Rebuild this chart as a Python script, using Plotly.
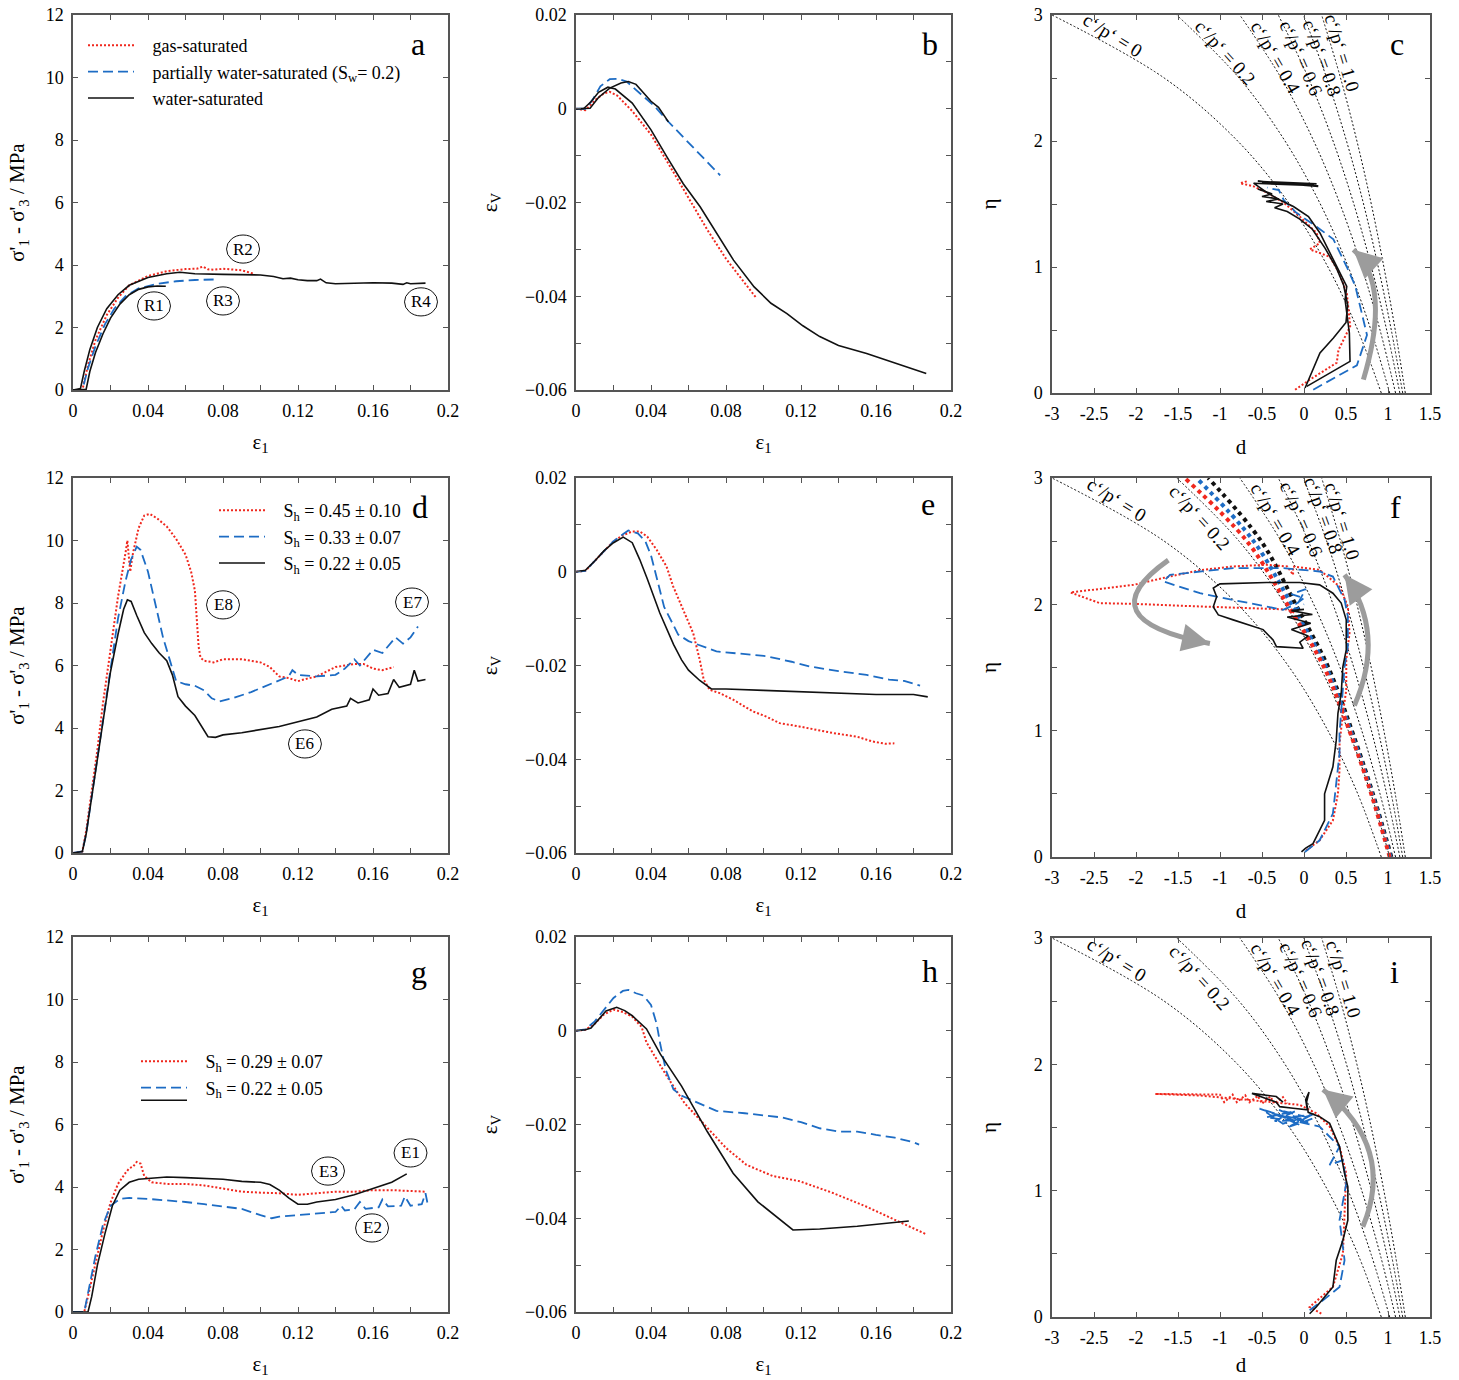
import plotly.graph_objects as go

FONT = "Liberation Serif, Times New Roman, serif"
RED = "#f0281e"
BLUE = "#1d6cc4"
BLACK = "#111111"
GREY = "#9c9c9c"
FRAME = "#555555"
W, H, OFF = 1459, 1380, 0   # page offset of the plot div (body margin removed below)

# ---------------- ticks ----------------
strain_minor = [0, 0.02, 0.04, 0.06, 0.08, 0.1, 0.12, 0.14, 0.16, 0.18, 0.2]
strain_ticks = [0, 0.04, 0.08, 0.12, 0.16, 0.2]
strain_labels = ["0", "0.04", "0.08", "0.12", "0.16", "0.2"]
stress_ticks = [0, 2, 4, 6, 8, 10, 12]
stress_labels = ["0", "2", "4", "6", "8", "10", "12"]
vol_minor = [-0.06, -0.05, -0.04, -0.03, -0.02, -0.01, 0, 0.01, 0.02]
vol_ticks = [-0.06, -0.04, -0.02, 0, 0.02]
vol_labels = ["\u22120.06", "\u22120.04", "\u22120.02", "0", "0.02"]
d_ticks = [-3, -2.5, -2, -1.5, -1, -0.5, 0, 0.5, 1, 1.5]
d_labels = ["-3", "-2.5", "-2", "-1.5", "-1", "-0.5", "0", "0.5", "1", "1.5"]
eta_minor = [0, 0.5, 1, 1.5, 2, 2.5, 3]
eta_ticks = [0, 1, 2, 3]
eta_labels = ["0", "1", "2", "3"]

legend_a = ["gas-saturated", "partially water-saturated (S<sub>w</sub>= 0.2)", "water-saturated"]
legend_d = ["S<sub>h</sub> = 0.45 \u00b1 0.10", "S<sub>h</sub> = 0.33 \u00b1 0.07", "S<sub>h</sub> = 0.22 \u00b1 0.05"]
legend_g = ["S<sub>h</sub> = 0.29 \u00b1 0.07", "S<sub>h</sub> = 0.22 \u00b1 0.05"]

# ---------------- reference lines c'/p' (d vs eta) ----------------
cp_eta = [0, 0.5, 1, 1.5, 2, 2.5, 3]
cp_names = ["0", "0.2", "0.4", "0.6", "0.8", "1.0"]
cp00_d = [0.92, 0.64, 0.285, -0.173, -0.79, -1.664, -3.0]
cp02_d = [1.02, 0.797, 0.527, 0.194, -0.226, -0.773, -1.515]
cp04_d = [1.09, 0.905, 0.688, 0.429, 0.116, -0.272, -0.764]
cp06_d = [1.141, 0.984, 0.803, 0.593, 0.346, 0.052, -0.306]
cp08_d = [1.175, 1.039, 0.884, 0.709, 0.506, 0.27, -0.007]
cp10_d = [1.206, 1.086, 0.951, 0.801, 0.63, 0.435, 0.21]
cp_lines = [cp00_d, cp02_d, cp04_d, cp06_d, cp08_d, cp10_d]

# fitted lines in panel f
f_fit_gas_d = [1.02, 0.80, 0.54, 0.24, -0.20, -0.68, -1.42]
f_fit_part_d = [1.03, 0.81, 0.555, 0.265, -0.15, -0.60, -1.28]
f_fit_water_d = [1.04, 0.82, 0.57, 0.29, -0.10, -0.51, -1.14]

# ---------------- panel a ----------------
a_gas_x = [0, 0.005, 0.008, 0.012, 0.018, 0.024, 0.03, 0.04, 0.05, 0.06, 0.066, 0.0693, 0.072, 0.075, 0.08, 0.09, 0.0969]
a_gas_y = [0, 0, 0.8, 1.6, 2.4, 2.95, 3.35, 3.65, 3.8, 3.87, 3.88, 3.95, 3.86, 3.85, 3.88, 3.83, 3.71]
a_part_x = [0, 0.005, 0.008, 0.012, 0.017, 0.022, 0.028, 0.035, 0.045, 0.055, 0.065, 0.0773]
a_part_y = [0, 0, 0.7, 1.4, 2.1, 2.6, 3.0, 3.25, 3.4, 3.48, 3.52, 3.54]
a_water_x = [0, 0.004, 0.006, 0.009, 0.013, 0.018, 0.024, 0.03, 0.04, 0.05, 0.057, 0.065, 0.08, 0.09, 0.1, 0.107,
             0.112, 0.116, 0.12, 0.125, 0.13, 0.132, 0.135, 0.14, 0.15, 0.16, 0.17, 0.176, 0.178, 0.18, 0.188]
a_water_y = [0, 0.05, 0.6, 1.3, 2.0, 2.6, 3.05, 3.35, 3.6, 3.72, 3.77, 3.72, 3.7, 3.7, 3.68, 3.63,
             3.56, 3.58, 3.53, 3.5, 3.5, 3.55, 3.43, 3.4, 3.42, 3.43, 3.42, 3.38, 3.43, 3.4, 3.42]
a_water2_x = [0, 0.007, 0.009, 0.012, 0.016, 0.02, 0.025, 0.03, 0.035, 0.04, 0.045, 0.0495]
a_water2_y = [0, 0.02, 0.6, 1.2, 1.8, 2.3, 2.75, 3.05, 3.22, 3.3, 3.33, 3.32]

# ---------------- panel b ----------------
b_gas_x = [0, 0.005, 0.01, 0.015, 0.018, 0.022, 0.03, 0.04, 0.05, 0.06, 0.07, 0.08, 0.09, 0.0964]
b_gas_y = [0, -0.0003, 0.0018, 0.0033, 0.0036, 0.0028, -0.0005, -0.0055, -0.0122, -0.019, -0.0258, -0.032, -0.0372, -0.0405]
b_part_x = [0, 0.005, 0.009, 0.013, 0.018, 0.022, 0.027, 0.035, 0.042, 0.0484, 0.055, 0.065, 0.0769]
b_part_y = [0, 0, 0.002, 0.0048, 0.0063, 0.0064, 0.0058, 0.003, 0.0005, -0.0024, -0.0052, -0.0093, -0.0142]
b_water_x = [0, 0.004, 0.008, 0.012, 0.017, 0.021, 0.03, 0.04, 0.0484, 0.0572, 0.0662, 0.075, 0.084, 0.095,
             0.104, 0.1125, 0.121, 0.13, 0.14, 0.155, 0.17, 0.1868]
b_water_y = [0, 0, 0.0015, 0.0035, 0.0046, 0.0042, 0.0012, -0.0045, -0.0102, -0.016, -0.0209, -0.0265, -0.0323, -0.038,
             -0.0415, -0.0437, -0.0463, -0.0486, -0.0505, -0.0522, -0.0543, -0.0565]
b_water2_x = [0, 0.003, 0.0075, 0.012, 0.018, 0.024, 0.0279, 0.032, 0.04, 0.044, 0.0493]
b_water2_y = [0, 0, 0.0001, 0.0024, 0.0044, 0.0055, 0.0058, 0.0052, 0.0016, 0.0003, -0.0028]

# ---------------- panel c ----------------
c_gas_d = [-0.106, 0.07, 0.39, 0.41, 0.55, 0.51, 0.42, 0.31, 0.19, 0.07, 0.19, 0.15, -0.05, -0.24, -0.44, -0.6, -0.76, -0.68]
c_gas_eta = [0.026, 0.106, 0.24, 0.34, 0.53, 0.79, 0.95, 1.08, 1.11, 1.14, 1.19, 1.27, 1.40, 1.51, 1.59, 1.64, 1.665, 1.68]
c_part_d = [0.11, 0.63, 0.75, 0.61, 0.51, 0.35, 0.15, -0.09, -0.24, -0.3, -0.44]
c_part_eta = [0.026, 0.22, 0.46, 0.85, 1.0, 1.22, 1.32, 1.43, 1.53, 1.61, 1.63]
c_water_d = [0.033, 0.548, 0.54, 0.489, 0.509, 0.429, 0.31, 0.19, 0.053, -0.126, -0.28, -0.44, -0.6,
             0.17, -0.5, 0.12, -0.4, 0.17, -0.55, 0.15]
c_water_eta = [0.053, 0.251, 0.476, 0.74, 0.846, 0.952, 1.11, 1.27, 1.40, 1.48, 1.53, 1.59, 1.665,
               1.645, 1.67, 1.655, 1.675, 1.64, 1.68, 1.66]
c_water2_d = [0.013, 0.19, 0.35, 0.5, 0.52, 0.47, 0.38, 0.25, 0.1, -0.05, -0.2, -0.35, -0.25, -0.45, -0.3, -0.5, -0.38, -0.55]
c_water2_eta = [0.04, 0.317, 0.436, 0.56, 0.7, 0.86, 1.0, 1.15, 1.3, 1.38, 1.44, 1.47, 1.5, 1.52, 1.54, 1.56, 1.58, 1.62]

# ---------------- panel d ----------------
d_gas_x = [0, 0.005, 0.007, 0.01, 0.013, 0.016, 0.02, 0.024, 0.028, 0.029, 0.0305, 0.032, 0.035, 0.038, 0.041, 0.045,
           0.05, 0.055, 0.06, 0.063, 0.065, 0.066, 0.067, 0.068, 0.07, 0.075, 0.08, 0.09, 0.1, 0.105, 0.11, 0.115,
           0.12, 0.125, 0.13, 0.14, 0.15, 0.155, 0.16, 0.165, 0.171]
d_gas_y = [0, 0.05, 0.7, 2.0, 3.3, 4.8, 6.5, 8.2, 9.6, 10.0, 9.0, 9.6, 10.4, 10.8, 10.85, 10.7,
           10.45, 10.05, 9.55, 9.0, 8.4, 7.5, 6.6, 6.25, 6.15, 6.1, 6.2, 6.2, 6.1, 5.95, 5.65, 5.6,
           5.5, 5.58, 5.65, 5.95, 6.05, 6.05, 5.9, 5.85, 5.95]
d_part_x = [0, 0.005, 0.007, 0.01, 0.013, 0.016, 0.02, 0.024, 0.028, 0.031, 0.034, 0.036, 0.04, 0.044, 0.048, 0.052,
            0.055, 0.06, 0.065, 0.07, 0.074, 0.078, 0.085, 0.095, 0.105, 0.115, 0.117, 0.12, 0.13, 0.14, 0.145,
            0.15, 0.153, 0.16, 0.165, 0.172, 0.176, 0.18, 0.184]
d_part_y = [0, 0.05, 0.6, 1.8, 3.0, 4.3, 5.9, 7.5, 8.7, 9.4, 9.8, 9.7, 9.0, 8.0, 6.9, 6.1,
            5.5, 5.4, 5.35, 5.2, 4.95, 4.85, 4.95, 5.15, 5.4, 5.65, 5.85, 5.7, 5.65, 5.7, 5.9,
            6.2, 6.0, 6.5, 6.4, 6.9, 6.7, 6.9, 7.25]
d_water_x = [0, 0.005, 0.007, 0.01, 0.013, 0.016, 0.02, 0.024, 0.027, 0.029, 0.031, 0.034, 0.038, 0.042, 0.046, 0.05,
             0.053, 0.056, 0.06, 0.065, 0.068, 0.072, 0.076, 0.08, 0.09, 0.1, 0.11, 0.12, 0.13, 0.138, 0.146,
             0.148, 0.152, 0.158, 0.16, 0.163, 0.168, 0.171, 0.174, 0.18, 0.182, 0.184, 0.188]
d_water_y = [0, 0.05, 0.6, 1.8, 3.0, 4.3, 5.8, 7.0, 7.8, 8.1, 8.05, 7.6, 7.05, 6.7, 6.4, 6.15,
             5.7, 5.0, 4.7, 4.4, 4.1, 3.72, 3.7, 3.78, 3.85, 3.95, 4.05, 4.2, 4.35, 4.6, 4.7,
             4.95, 4.8, 4.9, 5.25, 5.05, 5.1, 5.55, 5.3, 5.4, 5.85, 5.5, 5.55]

# ---------------- panel e ----------------
e_gas_x = [0, 0.005, 0.01, 0.015, 0.02, 0.025, 0.03, 0.034, 0.038, 0.043, 0.0483, 0.0518, 0.057, 0.0625, 0.066,
           0.0681, 0.0713, 0.0767, 0.0838, 0.0944, 0.1015, 0.1086, 0.119, 0.137, 0.15, 0.158, 0.165, 0.1698]
e_gas_y = [0, 0.0002, 0.0023, 0.0045, 0.0065, 0.0078, 0.0086, 0.0086, 0.0075, 0.0047, 0.0011, -0.0031, -0.0081, -0.0131, -0.0188,
           -0.023, -0.0252, -0.0259, -0.0273, -0.0298, -0.0309, -0.0323, -0.033, -0.0344, -0.0352, -0.0362, -0.0367, -0.0366]
e_part_x = [0, 0.005, 0.01, 0.015, 0.02, 0.025, 0.0279, 0.033, 0.037, 0.04, 0.043, 0.047, 0.0545, 0.06, 0.0749,
            0.09, 0.1015, 0.115, 0.1246, 0.14, 0.1476, 0.155, 0.167, 0.175, 0.1835]
e_part_y = [0, 0.0002, 0.0023, 0.0045, 0.0065, 0.008, 0.0088, 0.0082, 0.0065, 0.0035, -0.0015, -0.0075, -0.0134, -0.0148, -0.017,
            -0.0175, -0.018, -0.0192, -0.0202, -0.0212, -0.0216, -0.022, -0.023, -0.0233, -0.0243]
e_water_x = [0, 0.005, 0.01, 0.015, 0.02, 0.0252, 0.03, 0.034, 0.038, 0.0447, 0.052, 0.0563, 0.06, 0.066, 0.0722,
             0.08, 0.1, 0.12, 0.14, 0.16, 0.18, 0.1876]
e_water_y = [0, 0.0003, 0.0023, 0.0045, 0.0062, 0.0074, 0.0062, 0.0026, -0.0015, -0.0088, -0.0155, -0.0188, -0.021, -0.0232, -0.025,
             -0.025, -0.0253, -0.0256, -0.026, -0.0262, -0.0262, -0.0267]

# ---------------- panel f ----------------
f_gas_d = [0.028, 0.186, 0.344, 0.404, 0.423, 0.423, 0.463, 0.503, 0.503, 0.542, 0.522, 0.423, 0.186, 0.0, -0.13, -0.13,
           -0.2, -0.447, -0.843, -1.24, -1.6, -2.03, -2.78, -2.43, -2.03, -1.24, -0.447, -0.21, -0.1]
f_gas_eta = [0.053, 0.132, 0.29, 0.502, 0.687, 0.899, 1.137, 1.322, 1.56, 1.771, 1.983, 2.141, 2.273, 2.29, 2.30, 2.234,
             2.30, 2.313, 2.30, 2.27, 2.22, 2.154, 2.094, 2.009, 2.004, 1.983, 1.969, 1.96, 1.93]
f_part_d = [0.01, 0.186, 0.344, 0.384, 0.423, 0.423, 0.443, 0.463, 0.483, 0.522, 0.522, 0.483, 0.344, 0.186, -0.25,
            -0.843, -1.239, -1.595, -1.674, -1.239, -0.843, -0.447, -0.25, -0.1, 0.0, -0.15, 0.02, -0.12, 0.0]
f_part_eta = [0.04, 0.132, 0.344, 0.608, 0.82, 0.978, 1.137, 1.295, 1.507, 1.665, 1.903, 2.035, 2.22, 2.26, 2.287,
              2.287, 2.26, 2.234, 2.181, 2.088, 2.035, 1.983, 1.956, 2.0, 2.05, 2.08, 2.12, 1.95, 2.0]
f_water_d = [-0.03, 0.02, 0.107, 0.245, 0.245, 0.344, 0.384, 0.404, 0.443, 0.463, 0.503, 0.503, 0.443, 0.344, 0.186,
             -0.05, -0.447, -1.0, -1.08, -1.04, -1.08, -1.02, -0.843, -0.487, -0.368, -0.328, -0.01, -0.05, 0.05,
             -0.15, 0.08, -0.2, 0.1, -0.15, 0.0]
f_water_eta = [0.04, 0.07, 0.106, 0.29, 0.50, 0.714, 0.925, 1.137, 1.295, 1.507, 1.639, 1.877, 2.01, 2.088, 2.154,
               2.173, 2.173, 2.162, 2.128, 2.06, 1.98, 1.916, 1.877, 1.80, 1.718, 1.665, 1.652, 1.70, 1.75,
               1.80, 1.85, 1.90, 1.92, 1.95, 1.96]

# ---------------- panel g ----------------
g_gas_x = [0, 0.006, 0.008, 0.012, 0.016, 0.02, 0.024, 0.028, 0.03, 0.032, 0.034, 0.036, 0.038, 0.042, 0.05, 0.06,
           0.07, 0.08, 0.09, 0.1, 0.11, 0.12, 0.13, 0.14, 0.15, 0.16, 0.17, 0.18, 0.188]
g_gas_y = [0, 0, 0.5, 1.6, 2.6, 3.5, 4.1, 4.45, 4.6, 4.65, 4.8, 4.75, 4.35, 4.15, 4.1, 4.1,
           4.05, 3.95, 3.85, 3.82, 3.8, 3.75, 3.8, 3.85, 3.85, 3.9, 3.9, 3.87, 3.85]
g_part_x = [0, 0.006, 0.008, 0.012, 0.016, 0.02, 0.025, 0.03, 0.04, 0.05, 0.06, 0.07, 0.08, 0.09, 0.1, 0.106,
            0.11, 0.12, 0.13, 0.14, 0.143, 0.145, 0.15, 0.153, 0.156, 0.163, 0.165, 0.168, 0.175, 0.177, 0.18,
            0.186, 0.188, 0.189]
g_part_y = [0, 0, 0.6, 1.8, 2.8, 3.4, 3.62, 3.65, 3.62, 3.58, 3.52, 3.45, 3.38, 3.3, 3.1, 3.0,
            3.05, 3.1, 3.15, 3.2, 3.4, 3.25, 3.28, 3.52, 3.3, 3.35, 3.6, 3.38, 3.4, 3.7, 3.4,
            3.45, 3.8, 3.5]
g_water_x = [0, 0.008, 0.01, 0.013, 0.017, 0.021, 0.025, 0.03, 0.035, 0.045, 0.05, 0.06, 0.07, 0.08, 0.09, 0.1,
             0.105, 0.11, 0.115, 0.12, 0.125, 0.13, 0.14, 0.15, 0.16, 0.17, 0.178]
g_water_y = [0, 0, 0.5, 1.5, 2.5, 3.4, 3.9, 4.15, 4.25, 4.3, 4.32, 4.3, 4.28, 4.25, 4.18, 4.15,
             4.08, 3.9, 3.65, 3.45, 3.45, 3.52, 3.6, 3.75, 3.95, 4.15, 4.42]

# ---------------- panel h ----------------
h_gas_x = [0, 0.005, 0.01, 0.015, 0.02, 0.025, 0.03, 0.035, 0.0376, 0.0483, 0.058, 0.066, 0.08, 0.0909, 0.105,
           0.1193, 0.137, 0.1547, 0.1725, 0.1867]
h_gas_y = [0, 0.0002, 0.0015, 0.0035, 0.0045, 0.004, 0.003, 0.0008, -0.0025, -0.0096, -0.0155, -0.0189, -0.025, -0.0286, -0.031,
           -0.0321, -0.0346, -0.0375, -0.0407, -0.0434]
h_part_x = [0, 0.005, 0.01, 0.015, 0.02, 0.025, 0.028, 0.032, 0.036, 0.04, 0.043, 0.045, 0.048, 0.052, 0.056,
            0.06, 0.07, 0.0749, 0.09, 0.1, 0.11, 0.12, 0.13, 0.14, 0.15, 0.16, 0.17, 0.18, 0.183]
h_part_y = [0, 0.0003, 0.002, 0.0045, 0.007, 0.0085, 0.0087, 0.008, 0.0075, 0.0055, 0.0015, -0.003, -0.0085, -0.0125, -0.0138,
            -0.0145, -0.0163, -0.0171, -0.0176, -0.018, -0.0185, -0.0195, -0.0208, -0.0215, -0.0215, -0.0222, -0.0228, -0.0238, -0.0243]
h_water_x = [0, 0.005, 0.008, 0.012, 0.016, 0.0217, 0.026, 0.03, 0.0376, 0.045, 0.0563, 0.07, 0.0838, 0.097,
             0.11, 0.1157, 0.13, 0.15, 0.1775]
h_water_y = [0, 0.0002, 0.0006, 0.0025, 0.0042, 0.005, 0.0043, 0.0032, 0.0004, -0.005, -0.0118, -0.0215, -0.0304, -0.0365,
             -0.0407, -0.0425, -0.0423, -0.0417, -0.0406]

# ---------------- panel i ----------------
i_gas_d = [0.206, 0.067, 0.344, 0.463, 0.483, 0.503, 0.423, 0.305, 0.146, -0.05, -0.447, -0.843, -1.239, -1.773,
           -1.0, -0.95, -0.85, -0.8, -0.7, -0.65, -0.55, -0.5, -0.4, -0.35, -0.25, -0.2]
i_gas_eta = [0.026, 0.079, 0.238, 0.502, 0.82, 1.137, 1.348, 1.507, 1.612, 1.679, 1.705, 1.731, 1.753, 1.766,
             1.76, 1.70, 1.76, 1.70, 1.755, 1.70, 1.75, 1.69, 1.745, 1.69, 1.74, 1.69]
i_part_d = [0.067, 0.226, 0.423, 0.483, 0.423, 0.503, 0.463, 0.305, 0.423, 0.265, 0.186, -0.1, -0.3, -0.05, -0.4,
            -0.53, -0.2, 0.1, -0.25, -0.45, 0.0, -0.35, -0.1, -0.45, 0.05, -0.3, 0.1, -0.2, 0.15]
i_part_eta = [0.053, 0.132, 0.238, 0.449, 0.767, 1.057, 1.242, 1.203, 1.348, 1.454, 1.507, 1.55, 1.60, 1.52, 1.62,
              1.65, 1.58, 1.60, 1.53, 1.62, 1.56, 1.55, 1.63, 1.58, 1.54, 1.64, 1.57, 1.50, 1.62]
i_water_d = [0.067, 0.146, 0.344, 0.384, 0.463, 0.522, 0.522, 0.483, 0.423, 0.305, 0.186, 0.05, 0.03, 0.06, 0.02,
             0.04, -0.13, -0.289, -0.33, -0.62, -0.33, -0.25]
i_water_eta = [0.026, 0.079, 0.238, 0.449, 0.608, 0.767, 1.03, 1.137, 1.348, 1.533, 1.586, 1.62, 1.70, 1.78, 1.72,
               1.64, 1.652, 1.665, 1.70, 1.77, 1.745, 1.70]


# ---------------- layout geometry (page pixels) ----------------
def xdom(p0, p1):
    return [(p0 - OFF) / W, (p1 - OFF) / W]


def ydom(top, bottom):
    return [1 - (bottom - OFF) / H, 1 - (top - OFF) / H]


COLS = [xdom(73, 448), xdom(576, 951), xdom(1052, 1430)]
ROWS = [ydom(15, 390), ydom(478, 853), ydom(937, 1312)]
ROWS_C3 = [ydom(15, 393), ydom(478, 857), ydom(938, 1317)]

fig = go.Figure()

STYLE = {
    "gas": dict(color=RED, width=2, dash="2px,2px"),
    "part": dict(color=BLUE, width=1.8, dash="10px,5px"),
    "water": dict(color=BLACK, width=1.6),
}


def ax_id(k):
    return "" if k == 1 else str(k)


def add_line(x, y, kind, k, name=None, legend="legend"):
    fig.add_trace(go.Scatter(
        x=x, y=y, mode="lines", line=STYLE[kind],
        xaxis="x" + ax_id(k), yaxis="y" + ax_id(k),
        name=("\u00a0\u00a0\u00a0" + name) if name else " ",
        showlegend=name is not None, legend=legend, hoverinfo="skip"))


# panel a (1)
add_line(a_gas_x, a_gas_y, "gas", 1, legend_a[0], "legend")
add_line(a_part_x, a_part_y, "part", 1, legend_a[1], "legend")
add_line(a_water_x, a_water_y, "water", 1, legend_a[2], "legend")
add_line(a_water2_x, a_water2_y, "water", 1)
# panel b (2)
add_line(b_gas_x, b_gas_y, "gas", 2)
add_line(b_part_x, b_part_y, "part", 2)
add_line(b_water_x, b_water_y, "water", 2)
add_line(b_water2_x, b_water2_y, "water", 2)
# panel d (4)
add_line(d_gas_x, d_gas_y, "gas", 4, legend_d[0], "legend2")
add_line(d_part_x, d_part_y, "part", 4, legend_d[1], "legend2")
add_line(d_water_x, d_water_y, "water", 4, legend_d[2], "legend2")
# panel e (5)
add_line(e_gas_x, e_gas_y, "gas", 5)
add_line(e_part_x, e_part_y, "part", 5)
add_line(e_water_x, e_water_y, "water", 5)
# panel g (7)
add_line(g_gas_x, g_gas_y, "gas", 7, legend_g[0], "legend3")
add_line(g_part_x, g_part_y, "part", 7, legend_g[1], "legend3")
add_line(g_water_x, g_water_y, "water", 7, "", "legend4")
# panel h (8)
add_line(h_gas_x, h_gas_y, "gas", 8)
add_line(h_part_x, h_part_y, "part", 8)
add_line(h_water_x, h_water_y, "water", 8)

# right column: reference lines first
ref_line = dict(color=BLACK, width=1, dash="2px,2px", shape="spline")
for k in (3, 6, 9):
    for dvals in cp_lines:
        fig.add_trace(go.Scatter(x=dvals, y=cp_eta, mode="lines", line=ref_line,
                                 xaxis="x" + ax_id(k), yaxis="y" + ax_id(k), showlegend=False, hoverinfo="skip"))

# thick fitted lines in f
for dvals, col in ((f_fit_water_d, BLACK), (f_fit_part_d, BLUE), (f_fit_gas_d, RED)):
    fig.add_trace(go.Scatter(x=dvals, y=cp_eta, mode="lines",
                             line=dict(color=col, width=4, dash="4px,4px", shape="spline"),
                             xaxis="x6", yaxis="y6", showlegend=False, hoverinfo="skip"))

add_line(c_gas_d, c_gas_eta, "gas", 3)
add_line(c_part_d, c_part_eta, "part", 3)
add_line(c_water_d, c_water_eta, "water", 3)
add_line(c_water2_d, c_water2_eta, "water", 3)
add_line(f_gas_d, f_gas_eta, "gas", 6)
add_line(f_part_d, f_part_eta, "part", 6)
add_line(f_water_d, f_water_eta, "water", 6)
add_line(i_gas_d, i_gas_eta, "gas", 9)
add_line(i_part_d, i_part_eta, "part", 9)
add_line(i_water_d, i_water_eta, "water", 9)


# ---------------- axes ----------------
def make_axis(domain, anchor, rng, tv, tt, minor_vals, title, standoff):
    return dict(
        domain=domain, anchor=anchor, range=rng, tickmode="array", tickvals=tv, ticktext=tt,
        ticks="inside", ticklen=5, tickwidth=1, tickcolor=FRAME, ticklabelstandoff=4,
        ticklabeloverflow="allow",
        minor=dict(tickvals=minor_vals, ticks="inside", ticklen=5, tickwidth=1, tickcolor=FRAME, showgrid=False),
        showline=True, linecolor=FRAME, linewidth=1.5, mirror="ticks",
        showgrid=False, zeroline=False, automargin=False,
        tickfont=dict(family=FONT, size=18, color="black"),
        title=dict(text=title, font=dict(family=FONT, size=21, color="black"), standoff=standoff),
    )


layout_axes = {}
for r in range(3):
    for c in range(3):
        k = r * 3 + c + 1
        xs = "xaxis" + ax_id(k)
        ys = "yaxis" + ax_id(k)
        yd = ROWS_C3[r] if c == 2 else ROWS[r]
        if c == 0:
            layout_axes[xs] = make_axis(COLS[c], "y" + ax_id(k), [0, 0.2], strain_ticks, strain_labels,
                                        strain_minor, "\u03b5<sub>1</sub>", 14)
            layout_axes[ys] = make_axis(yd, "x" + ax_id(k), [0, 12], stress_ticks, stress_labels,
                                        stress_ticks, "\u03c3'<sub>1</sub> - \u03c3'<sub>3</sub> / MPa", 15)
        elif c == 1:
            layout_axes[xs] = make_axis(COLS[c], "y" + ax_id(k), [0, 0.2], strain_ticks, strain_labels,
                                        strain_minor, "\u03b5<sub>1</sub>", 14)
            layout_axes[ys] = make_axis(yd, "x" + ax_id(k), [-0.06, 0.02], vol_ticks, vol_labels,
                                        vol_minor, "\u03b5<sub>V</sub>", 22)
        else:
            layout_axes[xs] = make_axis(COLS[c], "y" + ax_id(k), [-3, 1.5], d_ticks, d_labels,
                                        d_ticks, "d", 16 if r < 2 else 10)
            layout_axes[ys] = make_axis(yd, "x" + ax_id(k), [0, 3], eta_ticks, eta_labels,
                                        eta_minor, "\u03b7", 31)

# ---------------- annotations ----------------
annotations = []
shapes = []

# panel letters, placed in each panel's own data coordinates
letters = ["a", "b", "c", "d", "e", "f", "g", "h", "i"]
letter_pos = [(0.184, 11.07), (0.1888, 0.0138), (1.107, 2.77),
              (0.185, 11.07), (0.1877, 0.0145), (1.095, 2.77),
              (0.1845, 10.88), (0.1888, 0.0127), (1.083, 2.73)]
for k, (lt, (lx, ly)) in enumerate(zip(letters, letter_pos), start=1):
    annotations.append(dict(text=lt, xref="x" + ax_id(k), yref="y" + ax_id(k),
                            x=lx, y=ly, showarrow=False, font=dict(family=FONT, size=32, color="black")))

# circled sample labels
circ = [
    (1, "R1", 0.0432, 2.69), (1, "R2", 0.0907, 4.51), (1, "R3", 0.080, 2.85), (1, "R4", 0.1856, 2.82),
    (4, "E8", 0.080, 7.94), (4, "E7", 0.1808, 8.03), (4, "E6", 0.1237, 3.49),
    (7, "E3", 0.136, 4.51), (7, "E1", 0.180, 5.09), (7, "E2", 0.1595, 2.69),
]
for k, txt, cx, cy in circ:
    shapes.append(dict(type="circle", xref="x" + ax_id(k), yref="y" + ax_id(k),
                       x0=cx - 0.0088, x1=cx + 0.0088, y0=cy - 0.45, y1=cy + 0.45,
                       line=dict(color=BLACK, width=1)))
    annotations.append(dict(text=txt, xref="x" + ax_id(k), yref="y" + ax_id(k), x=cx, y=cy,
                            showarrow=False, font=dict(family=FONT, size=17, color="black")))

# c'/p' labels
cp_label_pos = {
    3: [(-2.27, 2.84), (-0.94, 2.70), (-0.34, 2.66), (-0.04, 2.66), (0.21, 2.66), (0.45, 2.70)],
    6: [(-2.23, 2.83), (-1.24, 2.69), (-0.34, 2.67), (-0.03, 2.67), (0.23, 2.70), (0.45, 2.66)],
    9: [(-2.23, 2.83), (-1.24, 2.69), (-0.34, 2.67), (-0.04, 2.67), (0.20, 2.69), (0.47, 2.67)],
}
cp_angles = [32, 48, 60, 66, 70, 73]
for k, poss in cp_label_pos.items():
    for nm, (px, py), ang in zip(cp_names, poss, cp_angles):
        annotations.append(dict(text="c\u2018/p\u2018 = " + nm, xref="x" + ax_id(k), yref="y" + ax_id(k),
                                x=px, y=py, textangle=ang, showarrow=False,
                                font=dict(family=FONT, size=19, color="black")))

# grey curved arrows (quadratic Bezier + arrow head)
arrows = [
    (3, (0.707, 0.106), (1.045, 0.859), (0.588, 1.137), 11, 10),
    (6, (0.60, 1.20), (0.979, 1.773), (0.483, 2.234), 8, 11),
    (6, (-1.615, 2.35), (-2.62, 1.877), (-1.12, 1.69), -14, -3),
    (9, (0.70, 0.714), (1.097, 1.343), (0.226, 1.80), 11, 9),
]
for k, p0, p1, p2, axp, ayp in arrows:
    shapes.append(dict(type="path", xref="x" + ax_id(k), yref="y" + ax_id(k),
                       path=f"M {p0[0]},{p0[1]} Q {p1[0]},{p1[1]} {p2[0]},{p2[1]}",
                       line=dict(color=GREY, width=5)))
    annotations.append(dict(text="", xref="x" + ax_id(k), yref="y" + ax_id(k), x=p2[0], y=p2[1],
                            ax=axp, ay=ayp, showarrow=True, arrowhead=2, arrowsize=1.4,
                            arrowwidth=4, arrowcolor=GREY))

legend_common = dict(font=dict(family=FONT, size=18, color="black"), bgcolor="rgba(0,0,0,0)",
                     xanchor="left", yanchor="top", itemwidth=46, tracegroupgap=0)

fig.update_layout(
    width=W, height=H,
    margin=dict(l=0, r=0, t=0, b=0, autoexpand=False),
    paper_bgcolor="white", plot_bgcolor="white",
    font=dict(family=FONT, color="black"),
    legend=dict(legend_common, x=(83 - OFF) / W, y=1 - (27 - OFF) / H),
    legend2=dict(legend_common, x=(214 - OFF) / W, y=1 - (492 - OFF) / H),
    legend3=dict(legend_common, x=(136 - OFF) / W, y=1 - (1043 - OFF) / H),
    legend4=dict(legend_common, x=(136 - OFF) / W, y=1 - (1082 - OFF) / H),
    annotations=annotations, shapes=shapes,
    **layout_axes,
)

# let the figure fill the window exactly (no default body margin, no mode bar)
fig.write_html("out.html", config={"displayModeBar": False},
               post_script="document.body.style.margin = '0';")
